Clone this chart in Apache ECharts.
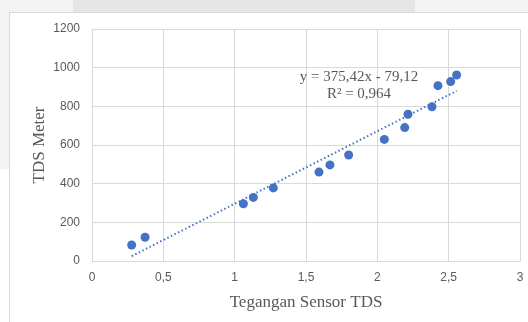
<!DOCTYPE html>
<html>
<head>
<meta charset="utf-8">
<script src="https://cdn.jsdelivr.net/npm/echarts@6/dist/echarts.min.js"></script>
<style>html,body{margin:0;padding:0;background:#fff}#c{width:528px;height:322px}</style>
</head>
<body>
<div id="c"></div>
<script>
var sensorVoltage = [0.278, 0.372, 1.061, 1.131, 1.271, 1.591, 1.668, 1.799, 2.049, 2.192, 2.215, 2.383, 2.425, 2.514, 2.556];
var tdsMeter = [83, 123, 296, 329, 378, 460, 497, 548, 629, 690, 759, 798, 907, 928, 962];
var trendX = [0.278, 2.556];
var trendY = [25, 880];
var equationLines = ['y = 375,42x - 79,12', 'R² = 0,964'];
var xTitle = 'Tegangan Sensor TDS';
var yTitle = 'TDS Meter';

var points = sensorVoltage.map(function (v, i) { return [v, tdsMeter[i]]; });
var trend = trendX.map(function (v, i) { return [v, trendY[i]]; });

var chart = echarts.init(document.getElementById('c'), null, {renderer: 'canvas'});
var labelColor = '#595959';
chart.setOption({
  backgroundColor: '#ffffff',
  animation: false,
  graphic: [
    {type: 'rect', z: -10, shape: {x: 0, y: 0, width: 9, height: 169}, style: {fill: '#f3f3f3'}, silent: true},
    {type: 'rect', z: -10, shape: {x: 0, y: 0, width: 528, height: 12}, style: {fill: '#f3f3f3'}, silent: true},
    {type: 'rect', z: -9, shape: {x: 73, y: 0, width: 342, height: 12}, style: {fill: '#e6e6e6'}, silent: true},
    {type: 'line', z: -8, shape: {x1: 9.5, y1: 12, x2: 9.5, y2: 322}, style: {stroke: '#d9d9d9', lineWidth: 1}, silent: true},
    {type: 'line', z: -8, shape: {x1: 9, y1: 12.5, x2: 528, y2: 12.5}, style: {stroke: '#d9d9d9', lineWidth: 1}, silent: true},
    {type: 'text', z: 10, style: {x: 359, y: 77, text: equationLines[0], font: '15px "Liberation Serif"', fill: labelColor, align: 'center', verticalAlign: 'middle'}},
    {type: 'text', z: 10, style: {x: 359, y: 94, text: equationLines[1], font: '15px "Liberation Serif"', fill: labelColor, align: 'center', verticalAlign: 'middle'}},
    {type: 'text', z: 10, x: 40, y: 145, rotation: Math.PI / 2, style: {x: 0, y: 0, text: yTitle, font: '17px "Liberation Serif"', fill: labelColor, align: 'center', verticalAlign: 'middle'}}
  ],
  grid: {left: 92, right: 8, top: 29, bottom: 61, containLabel: false},
  xAxis: {
    type: 'value', min: 0, max: 3, interval: 0.5,
    name: xTitle, nameLocation: 'middle', nameGap: 33,
    nameTextStyle: {fontFamily: 'Liberation Serif', fontSize: 17, color: labelColor},
    axisLine: {show: true, lineStyle: {color: '#d9d9d9', width: 1}},
    axisTick: {show: false},
    axisLabel: {color: labelColor, fontFamily: 'Liberation Sans', fontSize: 12, margin: 11,
      formatter: function (v) { return String(v).replace('.', ','); }},
    splitLine: {show: true, lineStyle: {color: '#d9d9d9', width: 1}}
  },
  yAxis: {
    type: 'value', min: 0, max: 1200, interval: 200,
    axisLine: {show: true, lineStyle: {color: '#d9d9d9', width: 1}},
    axisTick: {show: false},
    axisLabel: {color: labelColor, fontFamily: 'Liberation Sans', fontSize: 12, margin: 12,
      formatter: function (v) { return String(v); }},
    splitLine: {show: true, lineStyle: {color: '#d9d9d9', width: 1}}
  },
  series: [
    {
      type: 'line', data: trend, symbol: 'none', silent: true, z: 2,
      lineStyle: {color: '#4472C4', width: 2, type: [1.5, 2.5], cap: 'butt'}
    },
    {
      type: 'scatter', data: points, symbol: 'circle', symbolSize: 9, z: 3,
      itemStyle: {color: '#4472C4', opacity: 1}
    }
  ]
});
</script>
</body>
</html>
